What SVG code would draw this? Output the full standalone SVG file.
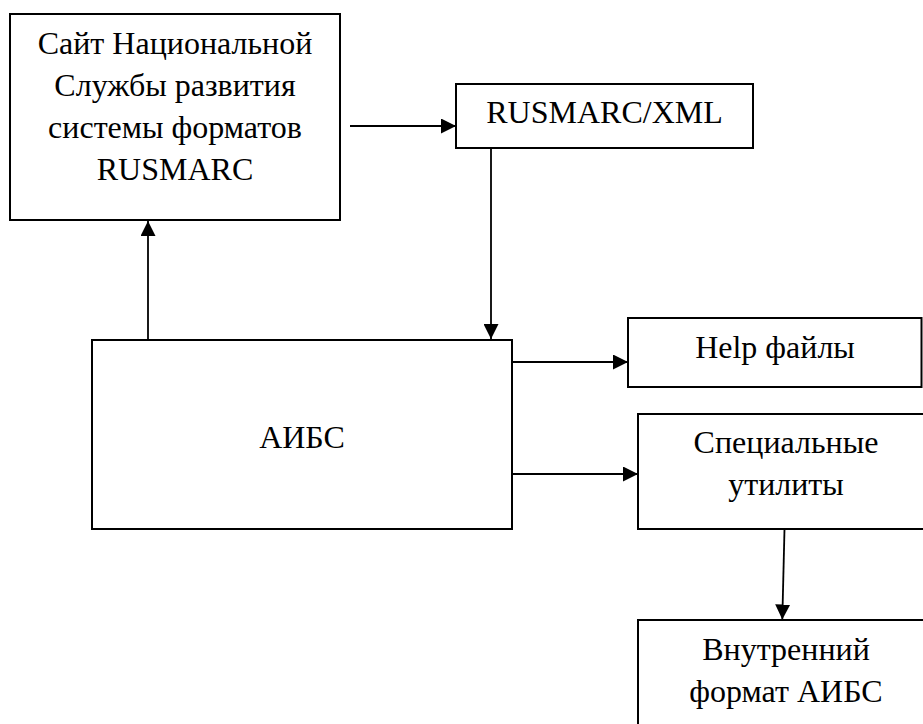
<svg xmlns="http://www.w3.org/2000/svg" width="923" height="724" viewBox="0 0 923 724">
<style>
.box{fill:#fff;stroke:#000;stroke-width:2}
.lbl{font-family:"Liberation Serif","Times New Roman",serif;font-size:32px;fill:#000;text-anchor:middle}
.con{stroke:#000;stroke-width:1.8;fill:none;marker-end:url(#ah)}
</style>
<defs>
<marker id="ah" markerUnits="userSpaceOnUse" markerWidth="15" markerHeight="15" refX="15" refY="7.5" orient="auto">
<path d="M0,0 L15,7.5 L0,15 Z" fill="#000"/>
</marker>
</defs>
<rect width="923" height="724" fill="#fff"/>
<g id="site">
<rect class="box" x="10" y="14" width="330" height="206"/>
<text class="lbl" x="175" y="54">Сайт Национальной</text>
<text class="lbl" x="175" y="96">Службы развития</text>
<text class="lbl" x="175" y="138">системы форматов</text>
<text class="lbl" x="175" y="180">RUSMARC</text>
</g>
<g id="xml">
<rect class="box" x="456" y="84" width="297" height="64"/>
<text class="lbl" x="604.5" y="123">RUSMARC/XML</text>
</g>
<g id="aibs">
<rect class="box" x="92" y="340" width="420" height="189"/>
<text class="lbl" x="302" y="448">АИБС</text>
</g>
<g id="help">
<rect class="box" x="628" y="318" width="293.5" height="69"/>
<text class="lbl" x="775" y="357.5">Help файлы</text>
</g>
<g id="utils">
<rect class="box" x="638" y="414" width="300" height="115"/>
<text class="lbl" x="786" y="453">Специальные</text>
<text class="lbl" x="786" y="495">утилиты</text>
</g>
<g id="internal">
<rect class="box" x="638" y="620" width="300" height="120"/>
<text class="lbl" x="786" y="660">Внутренний</text>
<text class="lbl" x="786" y="702">формат АИБС</text>
</g>
<g id="connectors">
<line class="con" x1="350" y1="126" x2="456" y2="126"/>
<line class="con" x1="491" y1="148" x2="491" y2="339"/>
<line class="con" x1="148" y1="340" x2="148" y2="221"/>
<line class="con" x1="512" y1="362" x2="628" y2="362"/>
<line class="con" x1="512" y1="474" x2="638" y2="474"/>
<line class="con" x1="784.5" y1="529" x2="782.3" y2="619.5"/>
</g>
</svg>
